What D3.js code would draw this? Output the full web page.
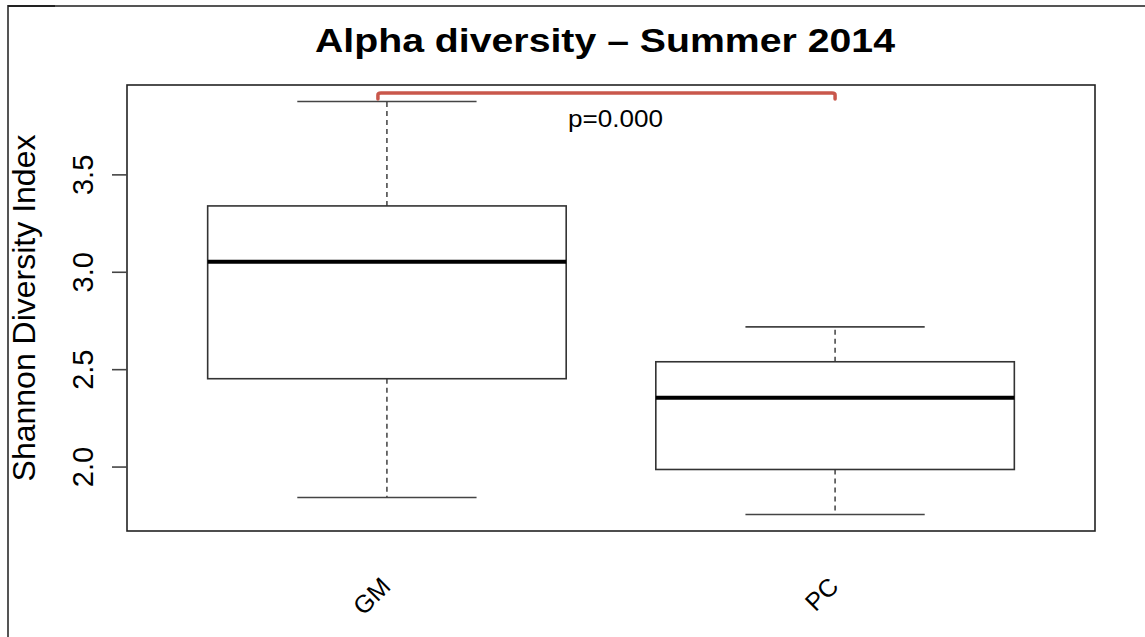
<!DOCTYPE html>
<html>
<head>
<meta charset="utf-8">
<script src="https://cdn.jsdelivr.net/npm/d3@7"></script>
<style>
  html, body { margin: 0; padding: 0; background: #fff; }
  svg { display: block; font-family: "Liberation Sans", Arial, Helvetica, sans-serif; }
</style>
</head>
<body>
<svg id="chart" width="1145" height="637"></svg>
<script>
// ---- data ----
const categories = ["GM", "PC"];
const whiskerLow  = [1.841, 1.754];
const quart1      = [2.451, 1.985];
const medians     = [3.051, 2.353];
const quart3      = [3.338, 2.538];
const whiskerHigh = [3.874, 2.717];
const yTicks = [2.0, 2.5, 3.0, 3.5];
const titleText = "Alpha diversity \u2013 Summer 2014";
const yLabel = "Shannon Diversity Index";
const pLabel = "p=0.000";

const svg = d3.select("#chart");
const W = 1145, H = 637;
const plot = { left: 127, right: 1095, top: 85, bottom: 531 };

// outer frame (top and left edges)
svg.append("path")
  .attr("d", `M8,${H} L8,6 L${W},6`)
  .attr("fill", "none").attr("stroke", "#555").attr("stroke-width", 2);
svg.append("line").attr("x1", 8).attr("x2", 55).attr("y1", 6).attr("y2", 6)
  .attr("stroke", "#222").attr("stroke-width", 2);

// scales (R-style 4% extension)
const n = categories.length;
const xLin = d3.scaleLinear()
  .domain([0.5 - 0.04 * n, n + 0.5 + 0.04 * n])
  .range([plot.left, plot.right]);
const lo = d3.min(whiskerLow), hi = d3.max(whiskerHigh);
const ext = (hi - lo) * 0.04;
const y = d3.scaleLinear().domain([lo - ext, hi + ext]).range([plot.bottom, plot.top]);

const boxHalf = 0.4, stapleHalf = 0.2;

const g = svg.append("g");
categories.forEach((c, i) => {
  const cx = xLin(i + 1);
  const x0 = xLin(i + 1 - boxHalf), x1 = xLin(i + 1 + boxHalf);
  const s0 = xLin(i + 1 - stapleHalf), s1 = xLin(i + 1 + stapleHalf);
  // whiskers (dashed)
  g.append("line").attr("x1", cx).attr("x2", cx)
    .attr("y1", y(quart3[i])).attr("y2", y(whiskerHigh[i]))
    .attr("stroke", "#333").attr("stroke-width", 1.4).attr("stroke-dasharray", "5,4");
  g.append("line").attr("x1", cx).attr("x2", cx)
    .attr("y1", y(quart1[i])).attr("y2", y(whiskerLow[i]))
    .attr("stroke", "#333").attr("stroke-width", 1.4).attr("stroke-dasharray", "5,4");
  // staples
  [whiskerHigh[i], whiskerLow[i]].forEach(v => {
    g.append("line").attr("x1", s0).attr("x2", s1).attr("y1", y(v)).attr("y2", y(v))
      .attr("stroke", "#444").attr("stroke-width", 1.6);
  });
  // box
  g.append("rect").attr("x", x0).attr("y", y(quart3[i]))
    .attr("width", x1 - x0).attr("height", y(quart1[i]) - y(quart3[i]))
    .attr("fill", "#fff").attr("stroke", "#333").attr("stroke-width", 1.6);
  // median
  g.append("line").attr("x1", x0).attr("x2", x1)
    .attr("y1", y(medians[i])).attr("y2", y(medians[i]))
    .attr("stroke", "#000").attr("stroke-width", 4);
});

// plot frame
svg.append("rect").attr("x", plot.left).attr("y", plot.top)
  .attr("width", plot.right - plot.left).attr("height", plot.bottom - plot.top)
  .attr("fill", "none").attr("stroke", "#222").attr("stroke-width", 1.6);

// y axis
const yAxis = d3.axisLeft(y).tickValues(yTicks).tickSize(15).tickSizeOuter(0)
  .tickFormat(d3.format(".1f"));
const ya = svg.append("g").attr("transform", `translate(${plot.left},0)`).call(yAxis);
ya.select(".domain").remove();
ya.selectAll(".tick line").attr("stroke", "#444").attr("stroke-width", 1.6);
ya.selectAll(".tick text")
  .attr("transform", "rotate(-90)")
  .attr("x", 0).attr("y", -34).attr("dy", null)
  .attr("text-anchor", "middle")
  .attr("fill", "#000")
  .style("font-size", "29px")
  .style("font-family", "'Liberation Sans', Arial, sans-serif");

// y label
svg.append("text")
  .attr("transform", `translate(35,${(plot.top + plot.bottom) / 2}) rotate(-90)`)
  .attr("text-anchor", "middle")
  .style("font-size", "32px")
  .text(yLabel);

// title
svg.append("text")
  .attr("x", 605).attr("y", 52)
  .attr("text-anchor", "middle")
  .style("font-size", "34px").style("font-weight", "bold")
  .attr("textLength", 580).attr("lengthAdjust", "spacingAndGlyphs")
  .text(titleText);

// x labels rotated 45
categories.forEach((c, i) => {
  svg.append("text")
    .attr("transform", `translate(${xLin(i + 1) + 5},588) rotate(-45)`)
    .attr("text-anchor", "end")
    .style("font-size", "25px")
    .text(c);
});

// significance bracket
const bx0 = xLin(1) - 9, bx1 = xLin(2);
const by = plot.top + 8;
svg.append("path")
  .attr("d", `M${bx0},${by + 6} L${bx0},${by + 2} Q${bx0},${by} ${bx0 + 3},${by} L${bx1 - 3},${by} Q${bx1},${by} ${bx1},${by + 2} L${bx1},${by + 6}`)
  .attr("fill", "none").attr("stroke", "#c9574b").attr("stroke-width", 3.5)
  .attr("stroke-linecap", "round").attr("stroke-linejoin", "round");
svg.append("text")
  .attr("x", 615.5).attr("y", 127)
  .attr("text-anchor", "middle")
  .style("font-size", "24px")
  .attr("textLength", 95).attr("lengthAdjust", "spacingAndGlyphs")
  .text(pLabel);
</script>
</body>
</html>
